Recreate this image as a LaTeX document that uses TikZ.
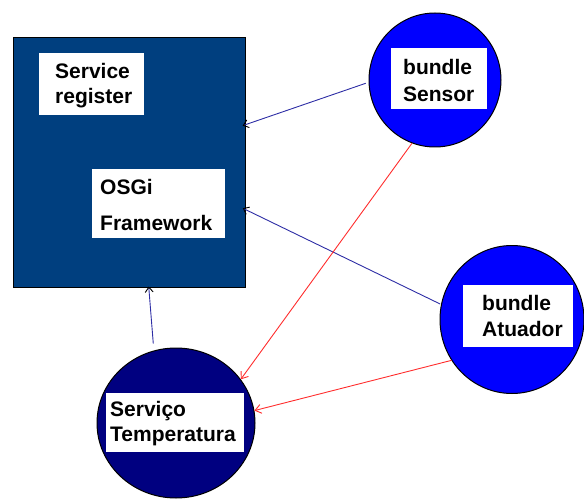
\documentclass[tikz,border=0pt]{standalone}
\usepackage{fontspec}
\setmainfont{Liberation Sans}
\usetikzlibrary{arrows.meta,shapes.geometric}

\definecolor{fwblue}{RGB}{0,63,127}
\definecolor{bundleblue}{RGB}{0,0,255}
\definecolor{servnavy}{RGB}{0,0,128}
\definecolor{linkblue}{RGB}{45,45,165}
\definecolor{linkred}{RGB}{255,45,45}

\tikzset{
  frame/.style={rectangle, draw=black, line width=1pt, fill=fwblue},
  bundlenode/.style={ellipse, draw=black, line width=1pt, fill=bundleblue, inner sep=0pt},
  servnode/.style={ellipse, draw=black, line width=1pt, fill=servnavy, inner sep=0pt},
  labelbox/.style={rectangle, fill=white, draw=none, inner sep=0pt},
  lbl/.style={anchor=base west, inner sep=0pt, font=\fontsize{21}{21}\selectfont\bfseries},
  bluelink/.style={draw=linkblue, line width=0.9pt, -{Straight Barb[length=5pt,width=8pt,color=black]}},
  redlink/.style={draw=linkred, line width=0.9pt, -{Straight Barb[length=6pt,width=9pt]}}
}

\begin{document}
\begin{tikzpicture}[x=1pt, y=-1pt]
  \useasboundingbox (0,0) rectangle (584,500);

  % OSGi framework block with its two inner labels
  \node[frame, minimum width=232pt, minimum height=249pt] (fw) at (129,162.5) {};
  \node[labelbox, minimum width=105pt, minimum height=62pt] (regbox) at (91.5,84) {};
  \node[labelbox, minimum width=133pt, minimum height=69pt] (fwbox) at (158.5,203.5) {};
  \node[lbl] (t1) at (55,78.3) {Service};
  \node[lbl] (t2) at (55,104) {register};
  \node[lbl] (t3) at (100,195) {OSGi};
  \node[lbl] (t4) at (100,230) {Framework};

  % sensor bundle
  \node[bundlenode, minimum width=132pt, minimum height=134pt] (sensor) at (435,80) {};
  \node[labelbox, minimum width=96pt, minimum height=61pt] (senbox) at (439,78.5) {};
  \node[lbl] (t5) at (403,75) {bundle};
  \node[lbl] (t6) at (403,101.7) {Sensor};

  % actuator bundle
  \node[bundlenode, minimum width=144pt, minimum height=148pt] (atuador) at (512,319.5) {};
  \node[labelbox, minimum width=110pt, minimum height=62pt] (atbox) at (518,316) {};
  \node[lbl] (t7) at (482,310.7) {bundle};
  \node[lbl] (t8) at (482,336) {Atuador};

  % temperature service
  \node[servnode, minimum width=158pt, minimum height=150pt] (temp) at (176,423) {};
  \node[labelbox, minimum width=138pt, minimum height=59pt] (tempbox) at (175,422.5) {};
  \node[lbl] (t9) at (110,416.7) {Serviço};
  \node[lbl] (t10) at (110,441.7) {Temperatura};

  % registrations with the framework
  \draw[bluelink, shorten <=3pt, shorten >=-3pt] (sensor.182.5) -- (fw.18.4);
  \draw[bluelink, shorten <=1pt, shorten >=-3pt] (atuador.168.6) -- (fw.-22.2);
  \draw[bluelink, shorten <=7pt, shorten >=-1pt] (temp.107) -- (fw.-81.8);

  % bundles using the temperature service
  \draw[redlink] (sensor.250.8) -- (temp.34.7);
  \draw[redlink] (atuador.214) -- (temp.9.9);
\end{tikzpicture}
\end{document}
